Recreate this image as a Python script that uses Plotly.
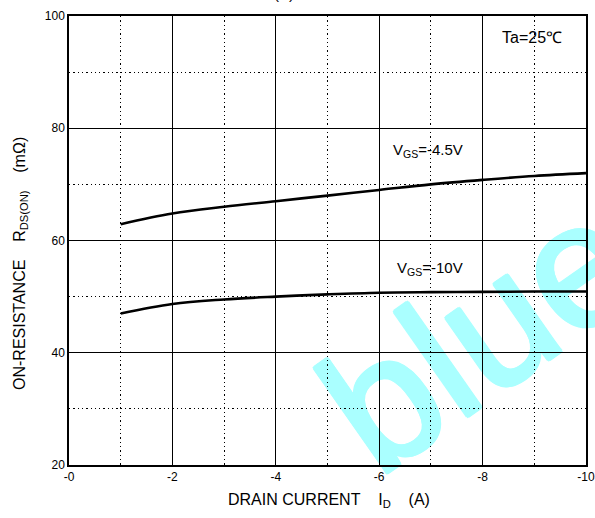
import plotly.graph_objects as go

# ---- data ----
drain_current = [-1, -2, -3, -4, -5, -6, -7, -8, -9, -10]
r_vgs_45 = [62.9, 64.8, 66.0, 67.0, 68.0, 69.0, 70.0, 70.8, 71.5, 72.0]
r_vgs_10 = [47.0, 48.7, 49.5, 50.0, 50.4, 50.7, 50.8, 50.85, 50.9, 50.9]

x_tick_vals = [0, -2, -4, -6, -8, -10]
x_tick_text = ["-0", "-2", "-4", "-6", "-8", "-10"]
y_tick_vals = [20, 40, 60, 80, 100]
y_tick_text = ["20", "40", "60", "80", "100"]

FONT = "Arial, 'Liberation Sans', sans-serif"
NB = "\u00a0"
WM = "#aaffff"

fig = go.Figure()
fig.add_trace(go.Scatter(x=drain_current, y=r_vgs_45, mode="lines",
                         line=dict(color="black", width=2.6, shape="spline"),
                         showlegend=False, hoverinfo="skip"))
fig.add_trace(go.Scatter(x=drain_current, y=r_vgs_10, mode="lines",
                         line=dict(color="black", width=2.6, shape="spline"),
                         showlegend=False, hoverinfo="skip"))

axis_common = dict(
    showline=True, mirror=True, linecolor="black", linewidth=1.5,
    showgrid=True, gridcolor="black", gridwidth=1.2, automargin=False,
    zeroline=False, ticks="", tickfont=dict(family=FONT, size=12, color="black"),
)

fig.update_xaxes(range=[0, -10], tickmode="array", tickvals=x_tick_vals, ticktext=x_tick_text,
                 minor=dict(dtick=1, tick0=0, showgrid=True, gridcolor="black",
                            gridwidth=1, griddash="1.3px,3px"),
                 **axis_common)
fig.update_yaxes(range=[20, 100], tickmode="array", tickvals=y_tick_vals, ticktext=y_tick_text,
                 minor=dict(dtick=10, tick0=0, showgrid=True, gridcolor="black",
                            gridwidth=1, griddash="1.3px,3px"),
                 **axis_common)

# watermark (below grid and traces)
cx, cy = 0.852, 0.386
dx, dy = 0.079, 0.064
shadow = ", ".join(f"{a}px {b}px 0px {WM}" for a, b in
                   [(2, 0), (-2, 0), (0, 2), (0, -2), (1.5, 1.5), (-1.5, -1.5), (1.5, -1.5), (-1.5, 1.5)])
fig.add_shape(type="line", xref="paper", yref="paper",
              x0=cx - dx, y0=cy - dy, x1=cx + dx, y1=cy + dy,
              line=dict(width=0, color="rgba(0,0,0,0)"), layer="below",
              label=dict(text="bluee", textangle=-35, textposition="middle",
                         xanchor="center", yanchor="middle",
                         font=dict(family=FONT, size=176, color=WM, shadow=shadow)))

ann = []
ann.append(dict(text="Ta=25℃", xref="paper", yref="paper", x=(532 - 69) / 517, y=0.953,
                xanchor="center", yanchor="middle", showarrow=False,
                font=dict(family=FONT, size=16, color="black")))
ann.append(dict(text="V<sub>GS</sub>=-4.5V", xref="paper", yref="paper", x=0.623, y=0.70,
                xanchor="left", yanchor="middle", showarrow=False,
                font=dict(family=FONT, size=15, color="black")))
ann.append(dict(text="V<sub>GS</sub>=-10V", xref="paper", yref="paper", x=0.630, y=0.437,
                xanchor="left", yanchor="middle", showarrow=False,
                font=dict(family=FONT, size=15, color="black")))
ann.append(dict(text="DRAIN CURRENT" + NB * 4 + "I<sub>D</sub>" + NB * 4 + "(A)",
                xref="paper", yref="paper", x=(329 - 69) / 517, y=(465 - 500) / 449,
                xanchor="center", yanchor="middle", showarrow=False,
                font=dict(family=FONT, size=16, color="black")))
ann.append(dict(text="ON-RESISTANCE" + NB * 4 + "R<sub>DS(ON)</sub>" + NB * 4 + "(mΩ)",
                xref="paper", yref="paper", x=(20 - 69) / 517, y=(465 - 264) / 449,
                xanchor="center", yanchor="middle", textangle=-90, showarrow=False,
                font=dict(family=FONT, size=16, color="black")))
ann.append(dict(text="(A)", xref="paper", yref="paper", x=(284 - 69) / 517, y=(465 + 6) / 449,
                xanchor="center", yanchor="middle", showarrow=False,
                font=dict(family=FONT, size=15, color="black")))

fig.update_layout(
    width=595, height=518,
    margin=dict(l=69, r=9, t=16, b=53, autoexpand=False),
    paper_bgcolor="white", plot_bgcolor="rgba(0,0,0,0)",
    annotations=ann,
    showlegend=False,
)

fig.write_html("out.html")
